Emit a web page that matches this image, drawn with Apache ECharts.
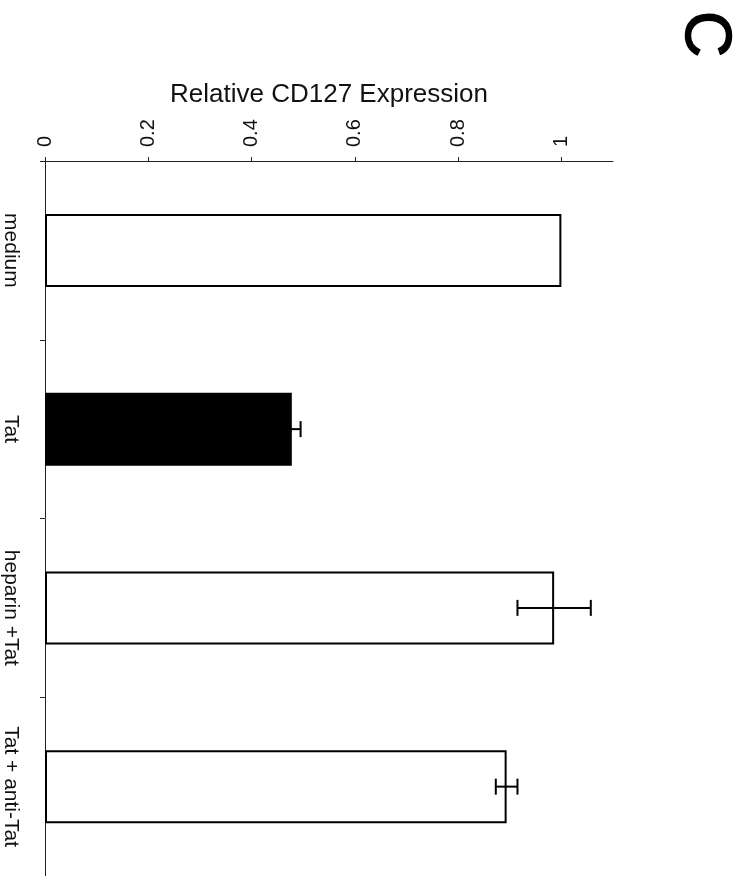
<!DOCTYPE html>
<html>
<head>
<meta charset="utf-8">
<script src="https://cdn.jsdelivr.net/npm/echarts@6/dist/echarts.min.js"></script>
<style>
  html, body { margin: 0; padding: 0; background: #fff; }
  #chart { width: 738px; height: 876px; }
</style>
</head>
<body>
<div id="chart"></div>
<script>
// Relative CD127 expression per treatment (mean and error)
const categories = ['medium', 'Tat', 'heparin +Tat', 'Tat + anti-Tat'];
const meanValues = [1.0, 0.478, 0.986, 0.894];
const errorValues = [0, 0.017, 0.071, 0.021];
const barFills = ['#ffffff', '#000000', '#ffffff', '#ffffff'];
const tickValues = [0, 0.2, 0.4, 0.6, 0.8, 1];
const axisTitle = 'Relative CD127 Expression';
const panelLetter = 'C';

const FONT = '"Liberation Sans", Arial, Helvetica, sans-serif';

const barData = meanValues.map((v, i) => ({
  value: v,
  itemStyle: { color: barFills[i] }
}));

const errorData = [];
meanValues.forEach((v, i) => {
  if (errorValues[i] > 0) {
    errorData.push([v - errorValues[i], v + errorValues[i], i]);
  }
});

const chart = echarts.init(document.getElementById('chart'), null, { renderer: 'canvas' });

chart.setOption({
  backgroundColor: '#ffffff',
  animation: false,
  grid: { left: 45, top: 161, width: 568, height: 719, containLabel: false },
  xAxis: {
    type: 'value',
    position: 'top',
    min: 0,
    max: 1.1,
    interval: 0.2,
    name: axisTitle,
    nameLocation: 'middle',
    nameGap: 53,
    nameTextStyle: { fontFamily: FONT, fontSize: 26, color: '#111' },
    axisLine: { show: true, lineStyle: { color: '#222', width: 1 } },
    axisTick: { show: true, length: 4, inside: false, customValues: tickValues,
      lineStyle: { color: '#222', width: 1 } },
    axisLabel: {
      rotate: -90,
      margin: 14,
      customValues: tickValues,
      fontFamily: FONT,
      fontSize: 20,
      color: '#111',
      formatter: v => String(v)
    },
    splitLine: { show: false }
  },
  yAxis: {
    type: 'category',
    inverse: true,
    data: categories,
    axisLine: { show: true, lineStyle: { color: '#222', width: 1 } },
    axisTick: { show: true, length: 5, lineStyle: { color: '#222', width: 1 } },
    axisLabel: {
      rotate: -90,
      margin: 24,
      fontFamily: FONT,
      fontSize: 21,
      color: '#111'
    },
    splitLine: { show: false }
  },
  series: [
    {
      type: 'bar',
      data: barData,
      barWidth: 73,
      itemStyle: { borderColor: '#000', borderWidth: 2 },
      z: 2
    },
    {
      type: 'custom',
      data: errorData,
      encode: { x: [0, 1], y: 2 },
      z: 3,
      renderItem: function (params, api) {
        const cat = api.value(2);
        const lo = api.coord([api.value(0), cat]);
        const hi = api.coord([api.value(1), cat]);
        const cap = 8;
        const style = { stroke: '#000', lineWidth: 2 };
        return {
          type: 'group',
          children: [
            { type: 'line', shape: { x1: lo[0], y1: lo[1], x2: hi[0], y2: hi[1] }, style },
            { type: 'line', shape: { x1: lo[0], y1: lo[1] - cap, x2: lo[0], y2: lo[1] + cap }, style },
            { type: 'line', shape: { x1: hi[0], y1: hi[1] - cap, x2: hi[0], y2: hi[1] + cap }, style }
          ]
        };
      }
    }
  ],
  graphic: [
    {
      type: 'text',
      x: 704,
      y: 34,
      rotation: -Math.PI / 2,
      style: {
        text: panelLetter,
        fontFamily: FONT,
        fontSize: 64,
        fontWeight: 'normal',
        fill: '#000',
        stroke: '#000',
        lineWidth: 1.5,
        align: 'center',
        verticalAlign: 'middle'
      }
    }
  ]
});
</script>
</body>
</html>
